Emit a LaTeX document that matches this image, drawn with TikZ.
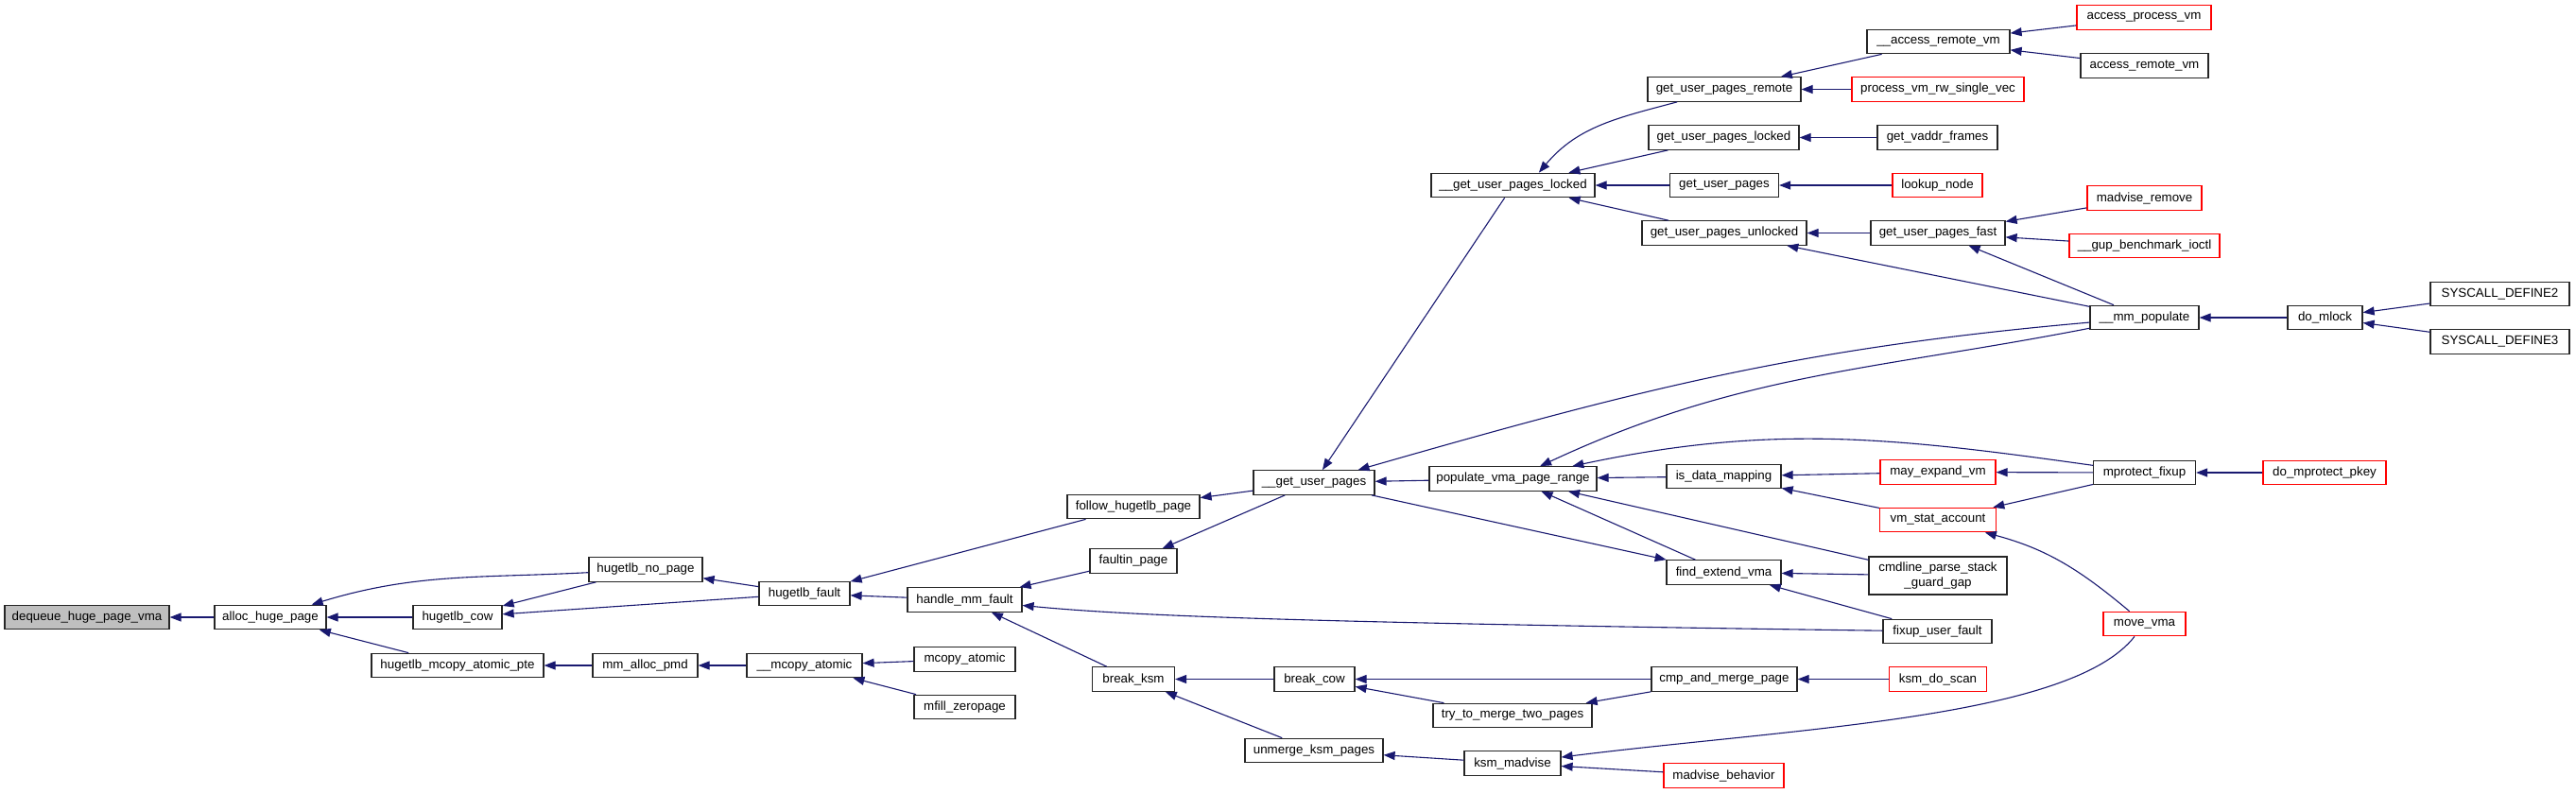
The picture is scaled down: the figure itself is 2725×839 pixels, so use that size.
\documentclass[tikz,border=0pt]{standalone}
\usepackage{fontspec}
\setmainfont{Liberation Sans}
\usepackage{tikz}
\usepackage{xcolor}
\usetikzlibrary{arrows.meta}
\definecolor{edgeblue}{HTML}{191970}

\begin{document}
\begin{tikzpicture}[
    x=1pt, y=-1pt,
    box/.style={draw=black!85, line width=1.2pt, fill=white, minimum height=25.5pt, inner xsep=2pt, inner ysep=2pt, align=center, font=\fontsize{13.33}{16}\selectfont},
    trunc/.style={box, draw=red},
    root/.style={box, fill=gray!50},
    arrow/.style={-{Triangle[length=12pt,width=9pt]}, draw=edgeblue, line width=1.1pt}
]
    \useasboundingbox (0,0) rectangle (2725,839);

    \node[root, minimum width=174pt] (dequeue) at (92,653) {dequeue\_huge\_page\_vma};
    \node[box, minimum width=118pt] (alloc) at (286,653) {alloc\_huge\_page};
    \node[box, minimum width=94pt] (hcow) at (484,653) {hugetlb\_cow};
    \node[box, minimum width=182pt] (hpte) at (484,704) {hugetlb\_mcopy\_atomic\_pte};
    \node[box, minimum width=120pt] (hnopage) at (683,602.5) {hugetlb\_no\_page};
    \node[box, minimum width=111pt] (pmd) at (682.5,704) {mm\_alloc\_pmd};
    \node[box, minimum width=96pt] (hfault) at (851,628) {hugetlb\_fault};
    \node[box, minimum width=122pt] (mcatomic) at (851,704) {\_\_mcopy\_atomic};
    \node[box, minimum width=121pt] (mmfault) at (1020.5,634.5) {handle\_mm\_fault};
    \node[box, minimum width=107pt] (mcopy) at (1020.5,697.5) {mcopy\_atomic};
    \node[box, minimum width=107pt] (mfill) at (1020.5,748) {mfill\_zeropage};
    \node[box, minimum width=140pt] (follow) at (1199,536) {follow\_hugetlb\_page};
    \node[box, minimum width=92pt] (faultin) at (1199,593.5) {faultin\_page};
    \node[box, minimum width=87pt] (bksm) at (1199,718.5) {break\_ksm};
    \node[box, minimum width=128pt] (gup) at (1390,510.5) {\_\_get\_user\_pages};
    \node[box, minimum width=85pt] (bcow) at (1390.5,718.5) {break\_cow};
    \node[box, minimum width=146pt] (unmerge) at (1390,794) {unmerge\_ksm\_pages};
    \node[box, minimum width=173pt] (gupl) at (1600.5,196) {\_\_get\_user\_pages\_locked};
    \node[box, minimum width=177pt] (popvma) at (1600.5,506.5) {populate\_vma\_page\_range};
    \node[box, minimum width=168pt] (trymerge) at (1600,757) {try\_to\_merge\_two\_pages};
    \node[box, minimum width=102pt] (ksmmadv) at (1600,807.5) {ksm\_madvise};
    \node[box, minimum width=162pt] (gupremote) at (1824,94.5) {get\_user\_pages\_remote};
    \node[box, minimum width=159pt] (guplocked) at (1823.5,145.5) {get\_user\_pages\_locked};
    \node[box, minimum width=115pt] (getup) at (1824,196) {get\_user\_pages};
    \node[box, minimum width=174pt] (gupunl) at (1824,246.5) {get\_user\_pages\_unlocked};
    \node[box, minimum width=121pt] (isdata) at (1823.5,504) {is\_data\_mapping};
    \node[box, minimum width=121pt] (findvma) at (1823.5,605.5) {find\_extend\_vma};
    \node[box, minimum width=154pt] (cmpmerge) at (1824,718.5) {cmp\_and\_merge\_page};
    \node[trunc, minimum width=127pt] (madvbeh) at (1823.5,820.5) {madvise\_behavior};
    \node[box, minimum width=151pt] (arv) at (2050.5,44) {\_\_access\_remote\_vm};
    \node[trunc, minimum width=182pt] (pvrw) at (2050,94.5) {process\_vm\_rw\_single\_vec};
    \node[box, minimum width=127pt] (vaddr) at (2049.5,145.5) {get\_vaddr\_frames};
    \node[trunc, minimum width=95pt] (lookup) at (2049.5,196) {lookup\_node};
    \node[box, minimum width=142pt] (gupfast) at (2050,246.5) {get\_user\_pages\_fast};
    \node[trunc, minimum width=122pt] (mayexp) at (2050,499.5) {may\_expand\_vm};
    \node[trunc, minimum width=123pt] (vmstat) at (2050,550) {vm\_stat\_account};
    \node[box, minimum width=146pt, minimum height=40pt] (cmdline) at (2050,609) {cmdline\_parse\_stack\\\_guard\_gap};
    \node[box, minimum width=115pt] (fixup) at (2049.5,668) {fixup\_user\_fault};
    \node[trunc, minimum width=103pt] (ksmscan) at (2050,718.5) {ksm\_do\_scan};
    \node[trunc, minimum width=142pt] (apv) at (2268,18.5) {access\_process\_vm};
    \node[box, minimum width=135pt] (arvm) at (2268.5,69.5) {access\_remote\_vm};
    \node[trunc, minimum width=121pt] (madvrem) at (2268.5,209.5) {madvise\_remove};
    \node[trunc, minimum width=159pt] (gupbench) at (2268.5,260) {\_\_gup\_benchmark\_ioctl};
    \node[box, minimum width=115pt] (mmpop) at (2268.5,336) {\_\_mm\_populate};
    \node[box, minimum width=108pt] (mprot) at (2268.5,500) {mprotect\_fixup};
    \node[trunc, minimum width=87pt] (movevma) at (2268.5,660) {move\_vma};
    \node[box, minimum width=79pt] (mlock) at (2459.5,336) {do\_mlock};
    \node[trunc, minimum width=130pt] (mprotkey) at (2459,500) {do\_mprotect\_pkey};
    \node[box, minimum width=147pt] (sys2) at (2644.5,311) {SYSCALL\_DEFINE2};
    \node[box, minimum width=147pt] (sys3) at (2644.5,361.5) {SYSCALL\_DEFINE3};

    \draw[arrow] (alloc) -- (dequeue);
    \draw[arrow] (hcow) -- (alloc);
    \draw[arrow] (hnopage) to[out=183,in=17] (alloc);
    \draw[arrow] (hpte) -- (alloc);
    \draw[arrow] (hnopage) -- (hcow);
    \draw[arrow] (hfault) -- (hnopage);
    \draw[arrow] (hfault) -- (hcow);
    \draw[arrow] (pmd) -- (hpte);
    \draw[arrow] (mcatomic) -- (pmd);
    \draw[arrow] (mcopy) -- (mcatomic);
    \draw[arrow] (mfill) -- (mcatomic);
    \draw[arrow] (follow) -- (hfault);
    \draw[arrow] (mmfault) -- (hfault);
    \draw[arrow] (faultin) -- (mmfault);
    \draw[arrow] (bksm) -- (mmfault);
    \draw[arrow] (fixup) .. controls (1400,659) and (1200,652) .. (mmfault);
    \draw[arrow] (gup) -- (follow);
    \draw[arrow] (gup) -- (faultin);
    \draw[arrow] (bcow) -- (bksm);
    \draw[arrow] (unmerge) -- (bksm);
    \draw[arrow] (gupl) -- (gup);
    \draw[arrow] (popvma) -- (gup);
    \draw[arrow] (mmpop) to[out=185,in=16] (gup);
    \draw[arrow] (gup) -- (findvma);
    \draw[arrow] (mmpop) to[out=191,in=25] (popvma);
    \draw[arrow] (mprot) to[out=172,in=12] (popvma);
    \draw[arrow] (isdata) -- (popvma);
    \draw[arrow] (cmdline) -- (popvma);
    \draw[arrow] (findvma) -- (popvma);
    \draw[arrow] (cmpmerge) -- (bcow);
    \draw[arrow] (trymerge) -- (bcow);
    \draw[arrow] (cmpmerge) -- (trymerge);
    \draw[arrow] (ksmmadv) -- (unmerge);
    \draw[arrow] (madvbeh) -- (ksmmadv);
    \draw[arrow] (movevma) .. controls (2190,760) and (1900,770) .. (ksmmadv);
    \draw[arrow] (gupremote) to[out=195,in=50] (gupl.26);
    \draw[arrow] (guplocked) -- (gupl);
    \draw[arrow] (getup) -- (gupl);
    \draw[arrow] (gupunl) -- (gupl);
    \draw[arrow] (mmpop) -- (gupunl);
    \draw[arrow] (mmpop) -- (gupfast);
    \draw[arrow] (arv) -- (gupremote);
    \draw[arrow] (pvrw) -- (gupremote);
    \draw[arrow] (apv) -- (arv);
    \draw[arrow] (arvm) -- (arv);
    \draw[arrow] (vaddr) -- (guplocked);
    \draw[arrow] (lookup) -- (getup);
    \draw[arrow] (gupfast) -- (gupunl);
    \draw[arrow] (madvrem) -- (gupfast);
    \draw[arrow] (gupbench) -- (gupfast);
    \draw[arrow] (mayexp) -- (isdata);
    \draw[arrow] (vmstat) -- (isdata);
    \draw[arrow] (cmdline) -- (findvma);
    \draw[arrow] (fixup) -- (findvma);
    \draw[arrow] (ksmscan) -- (cmpmerge);
    \draw[arrow] (mprot) -- (mayexp);
    \draw[arrow] (mprot) -- (vmstat);
    \draw[arrow] (movevma) to[out=140,in=-15] (vmstat);
    \draw[arrow] (mprotkey) -- (mprot);
    \draw[arrow] (mlock) -- (mmpop);
    \draw[arrow] (sys2) -- (mlock);
    \draw[arrow] (sys3) -- (mlock);
\end{tikzpicture}
\end{document}
